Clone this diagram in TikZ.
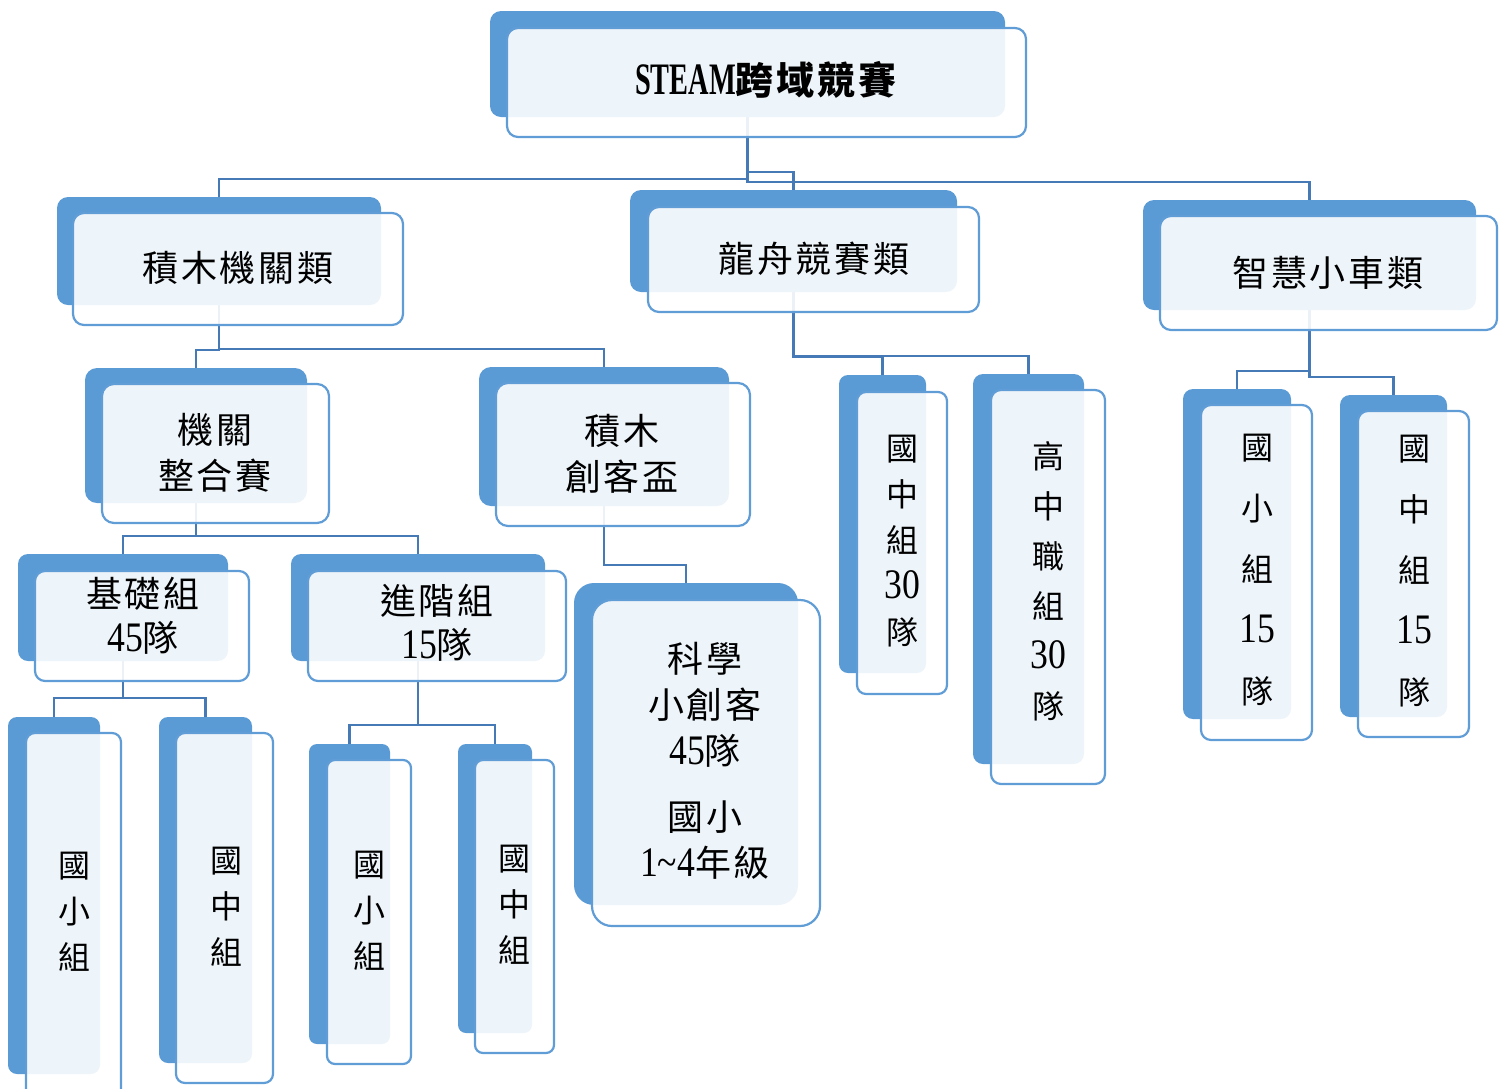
\documentclass[tikz,border=0pt]{standalone}
\usepackage{fontspec}
\setmainfont{Noto Sans CJK TC}
\newfontfamily\cjk[LetterSpace=8]{Noto Sans CJK TC}
\newfontfamily\lat[FakeStretch=0.85]{Liberation Serif}
\newfontfamily\steam[FakeStretch=0.63]{Liberation Serif}
\usetikzlibrary{fit}
\definecolor{bk}{RGB}{91,155,213}
\definecolor{fr}{RGB}{96,157,214}
\definecolor{cn}{RGB}{70,122,182}
\pgfdeclarelayer{bg}
\pgfsetlayers{bg,main}
\newcommand\dg[1]{{\lat\fontsize{42}{46}\selectfont #1}}
\tikzset{
  back/.style={fill=bk, draw=none, inner sep=0pt, outer sep=0pt, rounded corners=#1},
  back/.default=11pt,
  front/.style={fill=white, fill opacity=0.9, draw=fr, draw opacity=1, line width=2.2pt, inner sep=0pt, outer sep=0pt, rounded corners=#1},
  front/.default=11pt,
  conn/.style={draw=cn, line width=2.5pt},
  hl/.style={font=\cjk\fontsize{36}{46}\selectfont, align=center, inner sep=0pt, text=black},
  vl/.style={font=\fontsize{32}{#1}\selectfont, align=center, inner sep=0pt, text=black},
}
\begin{document}
\begin{tikzpicture}[x=1pt,y=-1pt]
\useasboundingbox (0,0) rectangle (1505,1088);
% level 0
\node[back, fit={(490,11)(1005,117)}] (topb) {};
\node[front, fit={(507,28)(1026,137)}] (topf) {};
% level 1
\node[back, fit={(57,197)(381,305)}] (k1b) {};
\node[front, fit={(73,213)(403,325)}] (k1f) {};
\node[back, fit={(630,190)(957,292)}] (k2b) {};
\node[front, fit={(648,207)(979,312)}] (k2f) {};
\node[back, fit={(1143,200)(1476,310)}] (k3b) {};
\node[front, fit={(1160,216)(1497,330)}] (k3f) {};
% level 2
\node[back=12pt, fit={(85,368)(307,503)}] (l1b) {};
\node[front=12pt, fit={(102,384)(329,523)}] (l1f) {};
\node[back=12pt, fit={(479,367)(729,506)}] (l2b) {};
\node[front=12pt, fit={(496,383)(750,526)}] (l2f) {};
\node[back=9pt, fit={(839,375)(926,673)}] (d1b) {};
\node[front=9pt, fit={(857,392)(947,694)}] (d1f) {};
\node[back=10pt, fit={(973,374)(1084,764)}] (d2b) {};
\node[front=10pt, fit={(991,390)(1105,784)}] (d2f) {};
\node[back=10pt, fit={(1183,389)(1291,719)}] (c1b) {};
\node[front=10pt, fit={(1201,405)(1312,740)}] (c1f) {};
\node[back=10pt, fit={(1340,395)(1447,717)}] (c2b) {};
\node[front=10pt, fit={(1358,411)(1469,737)}] (c2f) {};
% level 3
\node[back=10pt, fit={(18,554)(228,661)}] (m1b) {};
\node[front=10pt, fit={(35,571)(249,681)}] (m1f) {};
\node[back=10pt, fit={(291,554)(545,661)}] (m2b) {};
\node[front=10pt, fit={(308,571)(566,681)}] (m2f) {};
\node[back=20pt, fit={(574,583)(798,905)}] (sb) {};
\node[front=20pt, fit={(592,600)(820,926)}] (sf) {};
% level 4
\node[back=9pt, fit={(8,717)(100,1074)}] (n1b) {};
\node[front=9pt, fit={(26,733)(121,1100)}] (n1f) {};
\node[back=9pt, fit={(159,717)(252,1063)}] (n2b) {};
\node[front=9pt, fit={(176,733)(273,1083)}] (n2f) {};
\node[back=8pt, fit={(309,744)(390,1044)}] (n3b) {};
\node[front=8pt, fit={(327,760)(411,1064)}] (n3f) {};
\node[back=8pt, fit={(458,744)(532,1033)}] (n4b) {};
\node[front=8pt, fit={(475,760)(554,1053)}] (n4f) {};
% texts
\node[hl, font=\cjk\fontsize{38}{46}\selectfont\bfseries] (t0) at (766,80) {{\steam\bfseries\fontsize{45}{46}\selectfont STEAM}跨域競賽};
\node[hl] (t1) at (238,268) {積木機關類};
\node[hl] (t2) at (814,259) {龍舟競賽類};
\node[hl] (t3) at (1328,273) {智慧小車類};
\node[hl] (t4) at (215,453) {機關\\整合賽};
\node[hl] (t5) at (622,454) {積木\\創客盃};
\node[hl, font=\cjk\fontsize{36}{44}\selectfont] (t6) at (143,616) {基礎組\\\dg{45}隊};
\node[hl, font=\cjk\fontsize{36}{44}\selectfont] (t7) at (437,623) {進階組\\\dg{15}隊};
\node[hl] (t8) at (705,761) {科學\\小創客\\\dg{45}隊\\[20pt]國小\\\dg{1\char126 4}年級};
\node[vl=46] (v1) at (74,912) {國\\小\\組};
\node[vl=46] (v2) at (226,907) {國\\中\\組};
\node[vl=46] (v3) at (369,911) {國\\小\\組};
\node[vl=46] (v4) at (514,905) {國\\中\\組};
\node[vl=46] (v5) at (902,541) {國\\中\\組\\\dg{30}\\隊};
\node[vl=50] (v6) at (1048,581) {高\\中\\職\\組\\\dg{30}\\隊};
\node[vl=61] (v7) at (1257,570) {國\\小\\組\\\dg{15}\\隊};
\node[vl=61] (v8) at (1414,571) {國\\中\\組\\\dg{15}\\隊};
% connectors
\coordinate (y1) at (0,179);
\coordinate (y2) at (0,172);
\coordinate (y3) at (0,182);
\coordinate (y4) at (0,350);
\coordinate (y5) at (0,349);
\coordinate (y6) at (0,536);
\coordinate (y8) at (0,698);
\coordinate (y10) at (0,725);
\coordinate (y12) at (0,565);
\coordinate (y13) at (0,357);
\coordinate (y14) at (0,356);
\coordinate (y15) at (0,371);
\coordinate (y16) at (0,377);
\begin{pgfonlayer}{bg}
\draw[conn] (topb.center) |- (y1 -| k1b.north) -- (k1b.north);
\draw[conn] (topb.center) |- (y2 -| k2b.north) -- (k2b.north);
\draw[conn] (topb.center) |- (y3 -| k3b.north) -- (k3b.north);
\draw[conn] (k1b.center) |- (y4 -| l1b.north) -- (l1b.north);
\draw[conn] (k1b.center) |- (y5 -| l2b.north) -- (l2b.north);
\draw[conn] (l1b.center) |- (y6 -| m1b.north) -- (m1b.north);
\draw[conn] (l1b.center) |- (y6 -| m2b.north) -- (m2b.north);
\draw[conn] (m1b.center) |- (y8 -| n1b.north) -- (n1b.north);
\draw[conn] (m1b.center) |- (y8 -| n2b.north) -- (n2b.north);
\draw[conn] (m2b.center) |- (y10 -| n3b.north) -- (n3b.north);
\draw[conn] (m2b.center) |- (y10 -| n4b.north) -- (n4b.north);
\draw[conn] (l2b.center) |- (y12 -| sb.north) -- (sb.north);
\draw[conn] (k2b.center) |- (y13 -| d1b.north) -- (d1b.north);
\draw[conn] (k2b.center) |- (y14 -| d2b.north) -- (d2b.north);
\draw[conn] (k3b.center) |- (y15 -| c1b.north) -- (c1b.north);
\draw[conn] (k3b.center) |- (y16 -| c2b.north) -- (c2b.north);
\end{pgfonlayer}
\end{tikzpicture}
\end{document}
